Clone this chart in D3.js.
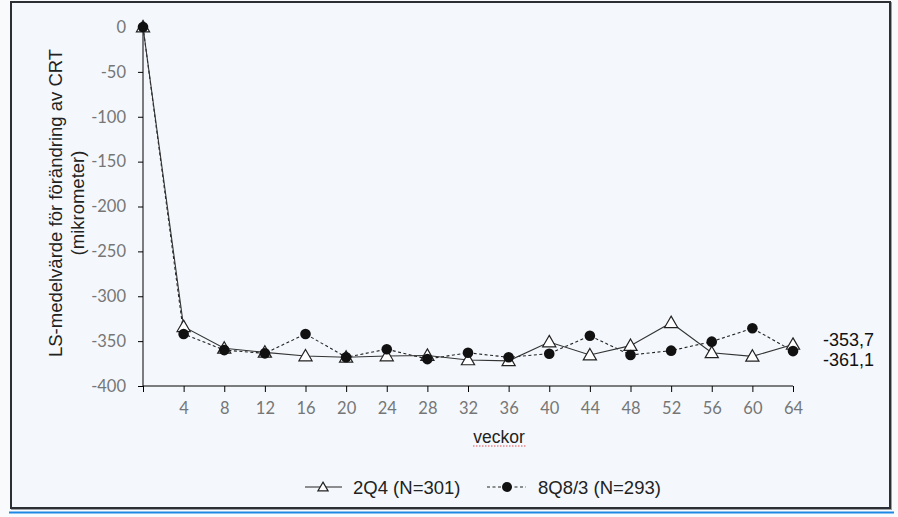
<!DOCTYPE html>
<html><head><meta charset="utf-8">
<script src="https://cdn.jsdelivr.net/npm/d3@7"></script>
<style>
html,body{margin:0;padding:0;background:#f8fafc;}
svg{display:block;}
</style></head>
<body>
<svg id="c" width="898" height="517"></svg>
<script>
// ---- data ----
const weeks = [0,4,8,12,16,20,24,28,32,36,40,44,48,52,56,60,64];
const series2Q4 = [0,-334,-358,-362.5,-366.6,-368,-366.6,-366,-371,-372,-351,-365.5,-355,-329.5,-363,-367,-353.7];
const series8Q8 = [0,-342,-360,-363.6,-342,-368,-359,-370,-363,-368,-364,-344,-365.5,-360.6,-350.6,-335.7,-361.1];
const yTicks = [0,-50,-100,-150,-200,-250,-300,-350,-400];
const xTickLabels = [4,8,12,16,20,24,28,32,36,40,44,48,52,56,60,64];
const seriesNames = ["2Q4 (N=301)","8Q8/3 (N=293)"];
const endLabels = ["-353,7","-361,1"];
const yTitle = ["LS-medelvärde för förändring av CRT","(mikrometer)"];
const xTitle = "veckor";

const FONT = "'Liberation Sans', Arial, sans-serif";
const svg = d3.select("#c");
// frame
svg.append("rect").attr("x",12).attr("y",3).attr("width",879).attr("height",506)
  .attr("fill","none").attr("stroke","#9aa0a4").attr("stroke-width",2);
svg.append("rect").attr("x",11).attr("y",2).attr("width",879).attr("height",506)
  .attr("fill","#f4f8fc").attr("stroke","#2b2f33").attr("stroke-width",2);
svg.append("line").attr("x1",9).attr("x2",894).attr("y1",512.5).attr("y2",512.5)
  .attr("stroke","#1e88e5").attr("stroke-width",2);

const x = d3.scaleLinear().domain([0,64]).range([143,793]);
const y = d3.scaleLinear().domain([-400,0]).range([386,27]);

// y axis
const yAxis = d3.axisLeft(y).tickValues(yTicks).tickSize(5).tickPadding(12).tickFormat(d3.format("d"));
const gy = svg.append("g").attr("transform","translate(143,0)").call(yAxis);
gy.select(".domain").attr("d","M0,386V27").attr("stroke","#000");
gy.selectAll(".tick line").attr("stroke","#000");
gy.selectAll(".tick text").attr("fill","#767676").style("font-family","Lato, 'Open Sans', sans-serif").style("font-size","16.5px").text(d=>d===0?"0":"-"+Math.abs(d));

// x axis
const xAxis = d3.axisBottom(x).tickValues(weeks).tickSize(6).tickPadding(10)
  .tickFormat(d=> xTickLabels.includes(d) ? String(d) : "");
const gx = svg.append("g").attr("transform","translate(0,386)").call(xAxis);
gx.select(".domain").attr("d","M143,0H793").attr("stroke","#000");
gx.selectAll(".tick line").attr("stroke","#000");
gx.selectAll(".tick text").attr("fill","#767676").style("font-family","Lato, 'Open Sans', sans-serif").style("font-size","16.5px");

// axis titles
const yt = svg.append("text").attr("transform","translate(62,203) rotate(-90)")
  .attr("text-anchor","middle").style("font-family",FONT)
  .style("font-size","18.5px").attr("fill","#222");
yt.append("tspan").attr("x",0).attr("dy",0).text(yTitle[0]);
yt.append("tspan").attr("x",0).attr("dy",22).text(yTitle[1]);

svg.append("text").attr("x",499).attr("y",443).attr("text-anchor","middle")
  .style("font-family",FONT).style("font-size","17.5px").attr("fill","#222").text(xTitle);
svg.append("line").attr("x1",473).attr("x2",527).attr("y1",446).attr("y2",446)
  .attr("stroke","#e05050").attr("stroke-width",1.2).attr("stroke-dasharray","1.5,1.5");

// lines
const line = d3.line().x((d,i)=>x(weeks[i])).y(d=>y(d));
svg.append("path").datum(series8Q8).attr("d",line).attr("fill","none")
  .attr("stroke","#222").attr("stroke-width",1.1).attr("stroke-dasharray","3,2.5");
svg.append("path").datum(series2Q4).attr("d",line).attr("fill","none")
  .attr("stroke","#333").attr("stroke-width",1.1);

const tri = d3.symbol().type(d3.symbolTriangle).size(75);
svg.selectAll(".tri").data(series2Q4).enter().append("path")
  .attr("d",tri).attr("transform",(d,i)=>`translate(${x(weeks[i])},${y(d)+1})`)
  .attr("fill","#fff").attr("stroke","#222").attr("stroke-width",1.2);
svg.selectAll(".dot").data(series8Q8).enter().append("circle")
  .attr("cx",(d,i)=>x(weeks[i])).attr("cy",d=>y(d)).attr("r",5.3).attr("fill","#111");

// end labels
svg.append("text").attr("x",823).attr("y",346).style("font-family",FONT)
  .style("font-size","18px").attr("fill","#111").text(endLabels[0]);
svg.append("text").attr("x",823).attr("y",366).style("font-family",FONT)
  .style("font-size","18px").attr("fill","#111").text(endLabels[1]);

// legend
const lg = svg.append("g");
lg.append("line").attr("x1",305).attr("x2",342).attr("y1",487).attr("y2",487).attr("stroke","#222").attr("stroke-width",1.1);
lg.append("path").attr("d",d3.symbol().type(d3.symbolTriangle).size(45)).attr("transform","translate(323,488)")
  .attr("fill","#fff").attr("stroke","#222").attr("stroke-width",1.2);
lg.append("text").attr("x",353).attr("y",494).style("font-family",FONT)
  .style("font-size","18.5px").attr("fill","#222").text(seriesNames[0]);
lg.append("line").attr("x1",487).attr("x2",526).attr("y1",487).attr("y2",487).attr("stroke","#222")
  .attr("stroke-width",1.1).attr("stroke-dasharray","3,2.5");
lg.append("circle").attr("cx",507).attr("cy",487).attr("r",5).attr("fill","#111");
lg.append("text").attr("x",538).attr("y",494).style("font-family",FONT)
  .style("font-size","18.5px").attr("fill","#222").text(seriesNames[1]);
</script>
</body></html>
